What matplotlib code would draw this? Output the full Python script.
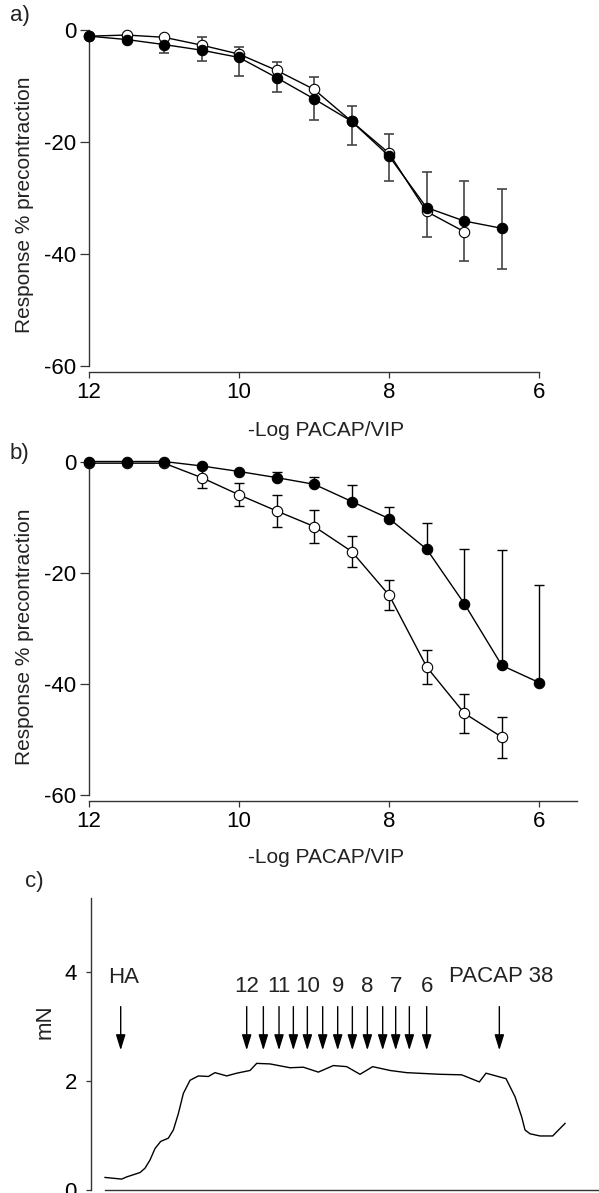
import numpy as np
import matplotlib
matplotlib.use("Agg")
import matplotlib.pyplot as plt

plt.rcParams['font.family'] = ['Liberation Sans', 'DejaVu Sans']
plt.rcParams['font.size'] = 15
plt.rcParams['axes.unicode_minus'] = False
plt.rcParams['text.color'] = '#222222'

# panel a: -log concentration vs response
x_a = [12, 11.5, 11, 10.5, 10, 9.5, 9, 8.5, 8, 7.5, 7, 6.5]
open_a = [-1.1, -0.9, -1.3, -2.7, -4.3, -7.2, -10.6, -16.3, -22.0, -32.4, -36.0]
filled_a = [-1.1, -1.7, -2.6, -3.6, -4.9, -8.5, -12.3, -16.3, -22.5, -31.7, -34.1, -35.4]
filled_a_lo = [0, 0, 1.5, 1.9, 3.3, 2.6, 3.8, 4.2, 4.5, 5.2, 7.1, 7.2]
filled_a_hi = [0, 0, 0, 2.3, 1.8, 2.8, 3.9, 2.7, 3.9, 6.4, 7.1, 7.0]

# panel b
x_b = [12, 11.5, 11, 10.5, 10, 9.5, 9, 8.5, 8, 7.5, 7, 6.5, 6]
filled_b = [0, 0, 0, -0.8, -1.8, -2.9, -4.1, -7.2, -10.3, -15.8, -25.6, -36.7, -39.8]
filled_b_hi = [0, 0, 0, 0, 0, 1.0, 1.25, 3.0, 2.1, 4.8, 9.8, 20.7, 17.5]
open_b = [-0.3, -0.3, -0.3, -2.9, -6.0, -8.9, -11.7, -16.2, -24.1, -37.0, -45.3, -49.6]
open_b_err = [0, 0, 0, 1.9, 2.05, 2.9, 2.9, 2.85, 2.7, 3.0, 3.55, 3.7]

y_ticks = [0, -20, -40, -60]
x_ticks = [12, 10, 8, 6]

# panel c: tension trace (mN) against time (arbitrary units)
t_c = [4.5, 9.5, 11, 15, 16.5, 18, 19.5, 21.2, 23.5, 25, 26.5, 28, 30, 32.5, 35.5,
       37.5, 41, 44, 48, 50, 54, 60, 64, 68.5, 73, 77, 81, 84.8, 90, 95, 105,
       111.5, 116.8, 118.8, 124.8, 127.5, 129.5, 130.5, 132, 135, 138.8, 142.5]
mN_c = [0.23, 0.20, 0.24, 0.32, 0.40, 0.55, 0.76, 0.89, 0.95, 1.10, 1.40, 1.77, 2.01,
        2.09, 2.08, 2.15, 2.09, 2.14, 2.19, 2.32, 2.31, 2.24, 2.25, 2.16, 2.28, 2.26,
        2.12, 2.26, 2.19, 2.15, 2.12, 2.11, 1.98, 2.14, 2.04, 1.71, 1.34, 1.10, 1.03,
        0.99, 0.99, 1.22]
arrow_t = [9.2, 47.0, 52.0, 56.7, 61.0, 65.2, 69.8, 74.3, 78.7, 83.2, 87.8, 91.7, 95.8, 101.0, 122.8]
dose_labels = ['12', '11', '10', '9', '8', '7', '6']
dose_label_t = [47.0, 56.7, 65.2, 74.3, 83.2, 91.7, 101.0]

W, H = 599, 1193
TICK_FS = 16
LABEL_FS = 15
fig = plt.figure(figsize=(W / 100, H / 100), dpi=100)


def px_axes(l, t, r, b):
    return fig.add_axes([l / W, 1 - b / H, (r - l) / W, (b - t) / H])


def style_dose_axes(ax, right):
    ax.set_xlim(12, right)
    ax.set_ylim(-60, 0)
    for s in ['top', 'right']:
        ax.spines[s].set_visible(False)
    for s in ['left', 'bottom']:
        ax.spines[s].set_linewidth(1.0)
        ax.spines[s].set_color('#333333')
    ax.spines['bottom'].set_position(('outward', 4.1))
    ax.set_xticks(x_ticks)
    ax.set_yticks(y_ticks)
    ax.tick_params(axis='y', length=6.2, width=0.9, pad=3, color='#333333', labelsize=TICK_FS)
    ax.tick_params(axis='x', length=4.3, width=0.9, pad=3, color='#333333', labelsize=TICK_FS)


mk = dict(marker='o', markersize=7.5, markeredgewidth=0.8, markeredgecolor='black',
          color='black', lw=1.0, clip_on=False)

# ---- a)
ax1 = px_axes(89, 30, 539, 366)
style_dose_axes(ax1, 6)
ax1.errorbar(x_a, filled_a, yerr=[filled_a_lo, filled_a_hi], fmt='none', ecolor='#444444',
             elinewidth=1.2, capsize=3.5, capthick=1.2, zorder=2, clip_on=False)
ax1.plot(x_a[:len(open_a)], open_a, markerfacecolor='white', zorder=3, **mk)
ax1.plot(x_a, filled_a, markerfacecolor='black', zorder=4, **mk)

# ---- b)
ax2 = px_axes(89, 461.5, 577, 795)
style_dose_axes(ax2, 5.5)
ax2.errorbar(x_b[:len(open_b)], open_b, yerr=open_b_err, fmt='none', ecolor='black',
             elinewidth=1.0, capsize=3.5, capthick=1.0, zorder=2, clip_on=False)
ax2.errorbar(x_b, filled_b, yerr=[np.zeros(len(x_b)), filled_b_hi], fmt='none', ecolor='black',
             elinewidth=1.0, capsize=3.5, capthick=1.0, zorder=2, clip_on=False)
ax2.plot(x_b[:len(open_b)], open_b, markerfacecolor='white', zorder=3, **mk)
ax2.plot(x_b, filled_b, markerfacecolor='black', zorder=4, **mk)

for base in [436, 863]:
    fig.text(326 / W, 1 - base / H, '-Log PACAP/VIP', ha='center', va='baseline', fontsize=LABEL_FS)
for yc in [205, 637]:
    fig.text(25 / W, 1 - yc / H, 'Response % precontraction', rotation=90,
             ha='center', va='center', fontsize=LABEL_FS)

# ---- c)
ax3 = px_axes(90.7, 898, 599, 1190)
ax3.set_xlim(0.2, 152.7)
ax3.set_ylim(0, 5.35)
ax3.spines['top'].set_visible(False)
ax3.spines['right'].set_visible(False)
for s in ['left', 'bottom']:
    ax3.spines[s].set_linewidth(1.0)
    ax3.spines[s].set_color('#333333')
ax3.spines['bottom'].set_bounds(4.5, 152.7)
ax3.set_xticks([])
ax3.set_yticks([0, 2, 4])
ax3.tick_params(axis='y', length=3.5, width=0.9, pad=6.5, color='#333333', labelsize=TICK_FS)
ax3.plot(t_c, mN_c, color='black', lw=1.0)
for t in arrow_t:
    ax3.annotate('', xy=(t, 2.56), xytext=(t, 3.36),
                 arrowprops=dict(arrowstyle='-|>,head_length=0.94,head_width=0.29',
                                 color='black', lw=1.0, mutation_scale=10,
                                 shrinkA=0, shrinkB=0))
ax3.text(10.2, 3.90, 'HA', ha='center', va='center', fontsize=LABEL_FS + 1)
for lab, t in zip(dose_labels, dose_label_t):
    ax3.text(t, 3.72, lab, ha='center', va='center', fontsize=LABEL_FS + 1)
ax3.text(123.4, 3.91, 'PACAP 38', ha='center', va='center', fontsize=LABEL_FS + 1)
fig.text(45 / W, 1 - 1022 / H, 'mN', rotation=90, ha='center', va='center', fontsize=LABEL_FS + 1)

fig.text(10 / W, 1 - 16 / H, 'a)', ha='left', va='center', fontsize=LABEL_FS + 1)
fig.text(10 / W, 1 - 453 / H, 'b)', ha='left', va='center', fontsize=LABEL_FS + 1)
fig.text(25 / W, 1 - 882 / H, 'c)', ha='left', va='center', fontsize=LABEL_FS + 1)

fig.savefig('out.png', dpi=100)
